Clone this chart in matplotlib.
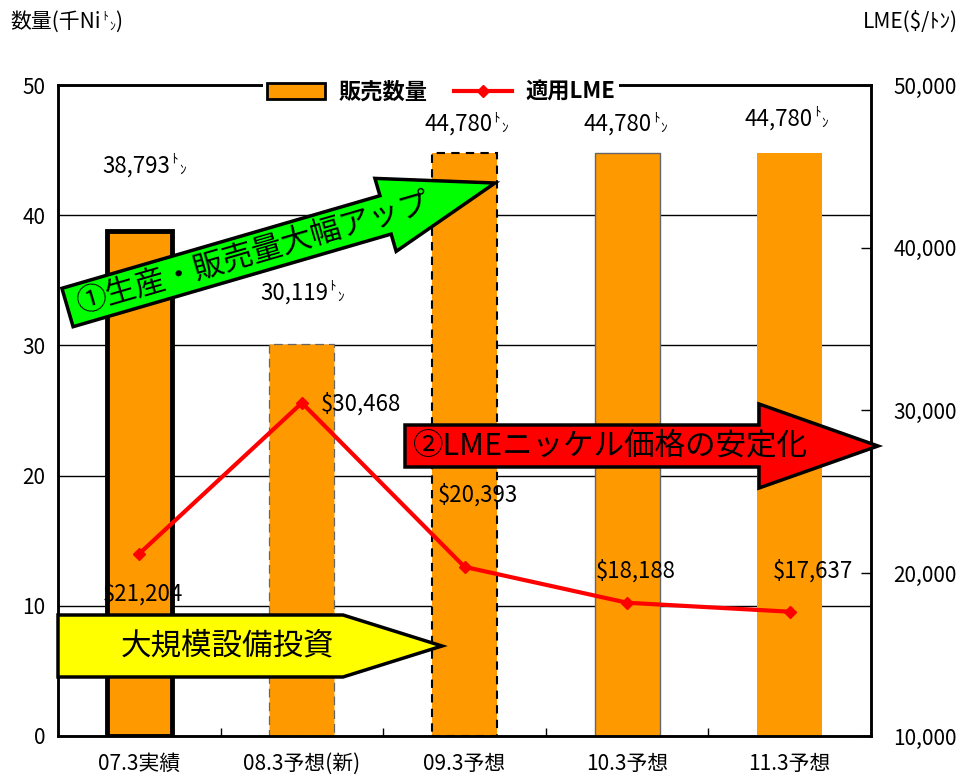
import numpy as np
import matplotlib
matplotlib.use('Agg')
import matplotlib.pyplot as plt
from matplotlib.patches import FancyArrow, Polygon, Patch
from matplotlib.lines import Line2D
from matplotlib.transforms import IdentityTransform

plt.rcParams['font.family'] = ['Noto Sans CJK JP', 'DejaVu Sans']

######################## DATA
categories = ['07.3実績', '08.3予想(新)', '09.3予想', '10.3予想', '11.3予想']
sales = [38.793, 30.119, 44.780, 44.780, 44.780]          # 千Niトン
sales_text = ['38,793', '30,119', '44,780', '44,780', '44,780']
lme = [21204, 30468, 20393, 18188, 17637]                 # $/トン
lme_text = ['\\$21,204', '\\$30,468', '\\$20,393', '\\$18,188', '\\$17,637']

# where the value labels sit (left axis units)
sales_lx = [0.19, 1.16, 2.17, 3.15, 4.14]
sales_ly = [43.8, 34.05, 47.0, 47.0, 47.4]
lme_lx = [0.02, 1.36, 2.08, 3.05, 4.14]
lme_ly = [10.9, 25.5, 18.5, 12.65, 12.65]

ORANGE = '#FF9900'
W, H = 968, 777

fig = plt.figure(figsize=(W / 100, H / 100), dpi=100)
ax = fig.add_axes([58 / W, 1 - 736 / H, 813 / W, 651 / H])
ax2 = ax.twinx()

x = np.arange(len(categories))

######################## BARS
bars = ax.bar(x, sales, width=0.4, color=ORANGE, zorder=2)
bars[0].set_edgecolor('black'); bars[0].set_linewidth(3.5)
bars[1].set_edgecolor('#666666'); bars[1].set_linewidth(0.9); bars[1].set_linestyle((0, (7, 4)))
bars[2].set_edgecolor('black'); bars[2].set_linewidth(1.5); bars[2].set_linestyle((0, (4, 3)))
bars[3].set_edgecolor('#666666'); bars[3].set_linewidth(1.0)

ax.set_xlim(-0.5, 4.5)
ax.set_ylim(0, 50)
ax.set_yticks(range(0, 51, 10))
ax.set_axisbelow(True)
ax.yaxis.grid(True, color='black', lw=1.0)
ax.tick_params(axis='y', length=0, pad=9, labelsize=15)
ax.set_xticks(x)
ax.set_xticklabels(categories, fontsize=15)
ax.tick_params(axis='x', length=0, pad=12)
ax.set_xticks(np.arange(0.5, 4, 1), minor=True)
ax.tick_params(axis='x', which='minor', direction='in', length=6, width=1)
for s in ax.spines.values():
    s.set_linewidth(1.8)

######################## LME LINE
ax2.plot(x, lme, color='red', lw=3, marker='D', ms=6, zorder=4)
ax2.set_ylim(10000, 50000)
ax2.set_yticks(range(10000, 50001, 10000))
ax2.set_yticklabels(['{:,}'.format(v) for v in range(10000, 50001, 10000)])
ax2.tick_params(axis='y', direction='in', length=7, width=1, pad=16, labelsize=15)
for s in ax2.spines.values():
    s.set_linewidth(1.8)


def ton(t, size=9.5):
    # small トン after a number
    ax.annotate('ﾄ', xy=(1, 0.78), xycoords=t, xytext=(1, 0), textcoords='offset points',
                ha='left', va='center', fontsize=size, annotation_clip=False)
    b = ax.annotate('ﾝ', xy=(1, 0.3), xycoords=t, xytext=(6.5, 0), textcoords='offset points',
                    ha='left', va='center', fontsize=size, annotation_clip=False)
    return b


for i in range(len(sales)):
    t = ax.text(sales_lx[i], sales_ly[i], sales_text[i], ha='right', va='center', fontsize=16, zorder=6)
    ton(t)
    ax.text(lme_lx[i], lme_ly[i], lme_text[i], ha='center', va='center', fontsize=16, zorder=6)

######################## LEGEND
handles = [Patch(facecolor=ORANGE, edgecolor='black', lw=2),
           Line2D([], [], color='red', lw=3, marker='D', ms=6)]
leg = ax2.legend(handles, ['販売数量', '適用LME'], loc='center', bbox_to_anchor=(0.471, 0.989),
                 ncol=2, frameon=True, fancybox=False, edgecolor='none', facecolor='white', framealpha=1,
                 prop={'size': 16, 'weight': 'bold', 'style': 'italic'}, handlelength=2.6,
                 columnspacing=1.2, handletextpad=0.6, borderpad=0.2)
leg.set_zorder(10)

######################## ARROWS (pixel space, y from top)
def arrow(tail, tip, width, head_w, head_l, color):
    x0, y0 = tail[0], H - tail[1]
    x1, y1 = tip[0], H - tip[1]
    a = FancyArrow(x0, y0, x1 - x0, y1 - y0, width=width, head_width=head_w, head_length=head_l,
                   length_includes_head=True, facecolor=color, edgecolor='black', lw=2.5,
                   transform=IdentityTransform(), zorder=5)
    fig.add_artist(a)


arrow((67.5, 307.5), (495, 183), 40, 76, 114, '#00FF00')
ang = np.degrees(np.arctan2(124.5, 427.5))
fig.text(254 / W, 1 - 253 / H, '①生産・販売量大幅アップ', rotation=ang, rotation_mode='anchor',
         ha='center', va='center', fontsize=22, zorder=6)

arrow((405, 446), (878, 446), 42, 84, 119, 'red')
fig.text(413 / W, 1 - 446 / H, '②LMEニッケル価格の安定化', ha='left', va='center', fontsize=22, zorder=6)

yellow = Polygon([(58, H - 615), (343, H - 615), (442, H - 646), (343, H - 677), (58, H - 677)],
                 closed=True, facecolor='yellow', edgecolor='black', lw=2.5,
                 transform=IdentityTransform(), zorder=5)
fig.add_artist(yellow)
fig.text(227 / W, 1 - 646 / H, '大規模設備投資', ha='center', va='center', fontsize=22, zorder=6)

######################## AXIS TITLES
t = fig.text(10 / W, 1 - 22 / H, '数量(千Ni', ha='left', va='center', fontsize=15)
n = ton(t, 8.5)
ax.annotate(')', xy=(1, 0.5), xycoords=(n, t), xytext=(0, 0), textcoords='offset points',
            ha='left', va='center', fontsize=15, annotation_clip=False)
fig.text(958 / W, 1 - 22 / H, 'LME(\\$/ﾄﾝ)', ha='right', va='center', fontsize=15)

fig.savefig('out.png', dpi=100)
